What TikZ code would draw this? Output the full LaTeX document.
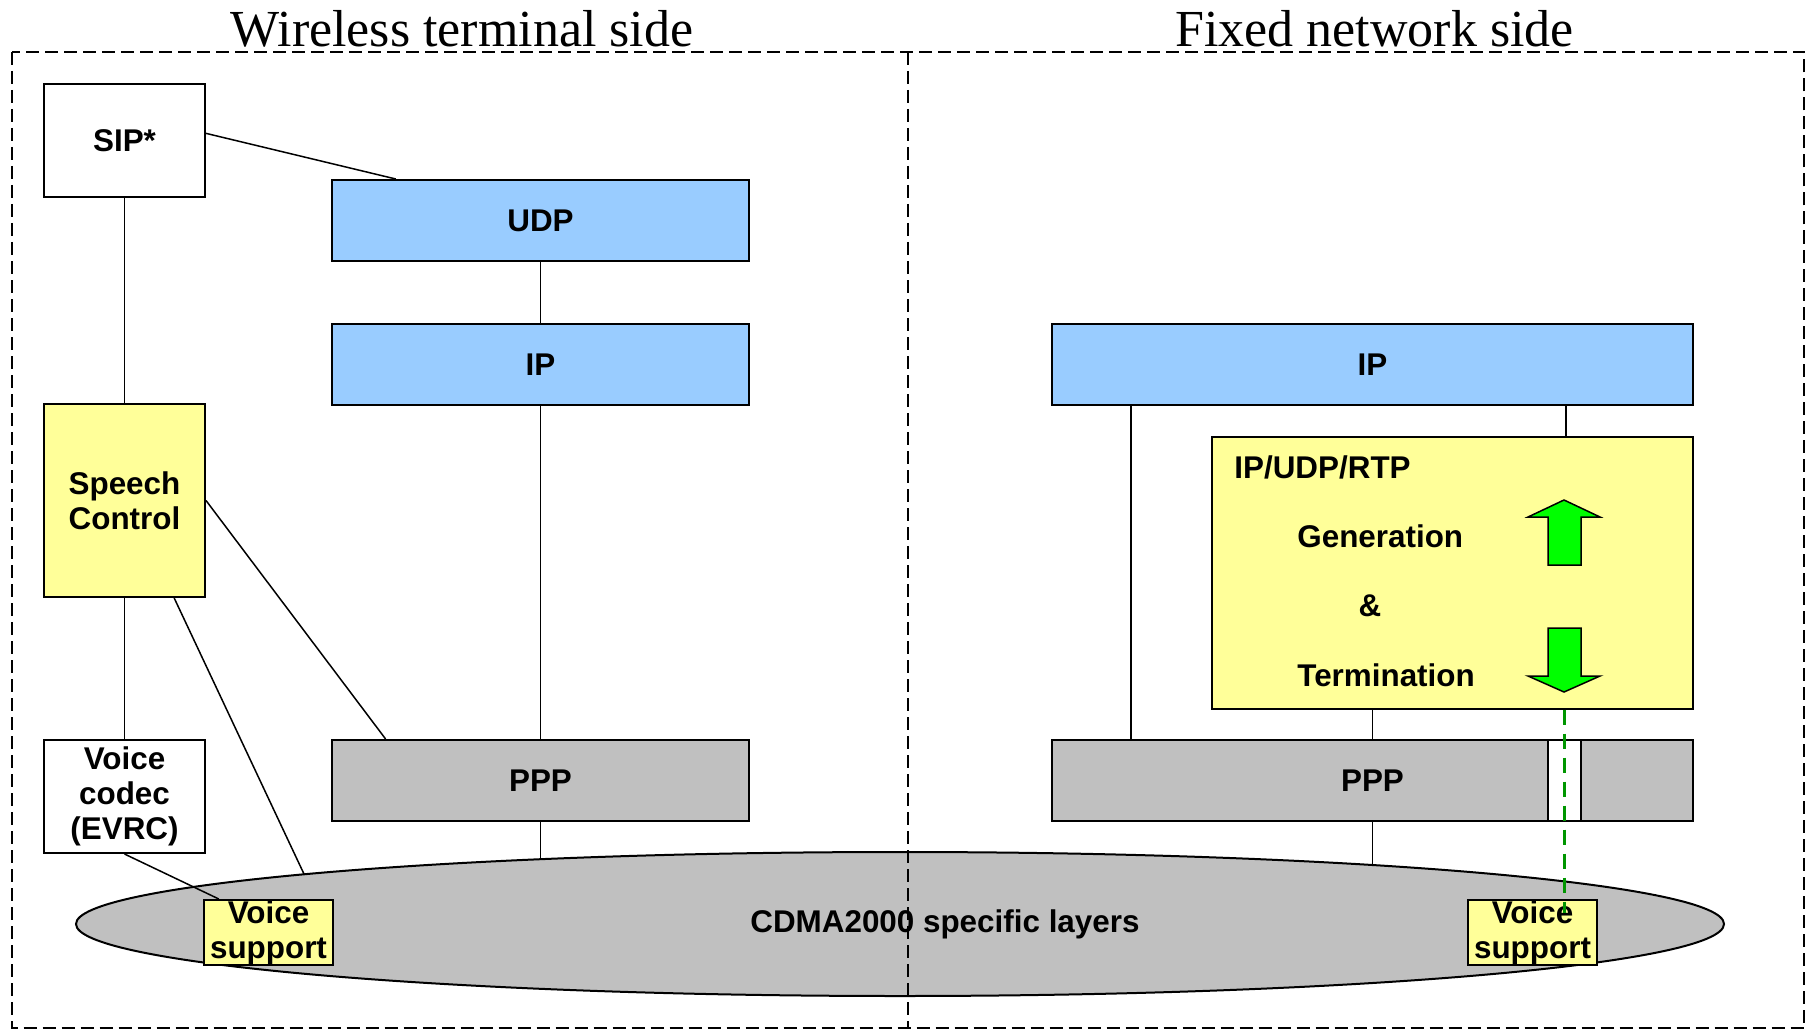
\documentclass[tikz,border=0pt]{standalone}
\usepackage{fontspec}
\setmainfont{Liberation Sans}
\newfontfamily\titlefont{Liberation Serif}
\usetikzlibrary{shapes.geometric,calc}
\definecolor{lblue}{RGB}{153,204,255}
\definecolor{lyellow}{RGB}{255,255,153}
\definecolor{lgrey}{RGB}{192,192,192}
\definecolor{agreen}{RGB}{0,255,0}
\definecolor{dgreen}{RGB}{0,150,0}
\tikzset{
  txt/.style={font=\bfseries\fontsize{15.7}{17.5}\selectfont, align=center},
  layer/.style={draw=black, line width=1pt, inner sep=0pt, txt},
  bluebox/.style={layer, fill=lblue, minimum width=208.5pt, minimum height=40.5pt},
  greybox/.style={layer, fill=lgrey, minimum width=208.5pt, minimum height=40.5pt},
  wbox/.style={layer, fill=white, minimum width=80.5pt, minimum height=56.5pt},
  vsbox/.style={layer, fill=lyellow, minimum width=64.5pt, minimum height=32.5pt},
  conn/.style={draw=black, line width=0.75pt},
  frame/.style={draw=black, line width=1pt, dash pattern=on 6.5pt off 3pt},
  ttl/.style={font=\titlefont\fontsize{26}{30}\selectfont, anchor=base},
  garrow/.style={fill=agreen, draw=black, line width=0.75pt, line join=miter},
}
\begin{document}
\begin{tikzpicture}[x=0.5pt,y=-0.5pt]
\useasboundingbox (0,0) rectangle (1813,1032);
\coordinate (ec) at (900,924);
\coordinate (sce) at (304,874);

% titles
\node[ttl] (t1) at (462,47) {Wireless terminal side};
\node[ttl] (t2) at (1374.5,47) {Fixed network side};

% left stack
\node[wbox] (SIP) at (124.5,140.5) {SIP*};
\node[bluebox] (UDP) at (540.5,220.5) {UDP};
\node[bluebox] (IPL) at (540.5,364.5) {IP};
\node[greybox] (PPPL) at (540.5,780.5) {PPP};
\node[layer, fill=lyellow, minimum width=80.5pt, minimum height=96.5pt] (SC) at (124.5,500.5) {Speech\\Control};
\node[wbox] (VC) at (124.5,796.5) {Voice\\codec\\(EVRC)};

% right stack
\node[layer, fill=lblue, minimum width=320.5pt, minimum height=40.5pt] (IPR) at (1372.5,364.5) {IP};
\node[layer, fill=lgrey, minimum width=320.5pt, minimum height=40.5pt] (PPPR) at (1372.5,780.5) {PPP};
\node[draw=black, line width=0.6pt, fill=white, inner sep=0pt, minimum width=16.5pt, minimum height=40.5pt] (slot) at (1564.5,780.5) {};
\node[layer, fill=lyellow, minimum width=240.5pt, minimum height=136pt] (GT) at (1452.5,572.5) {};

% connectors going into the ellipse (drawn beneath it)
\draw[conn] (PPPL.south) -- (PPPL.south |- ec);
\draw[conn] (PPPR.south) -- (PPPR.south |- ec);
\draw[conn] (SC.-63.3) -- (sce);

% ellipse
\node[ellipse, draw=black, line width=1pt, fill=lgrey, minimum width=824pt, minimum height=72pt, inner sep=0pt] (cdma) at (ec) {};
\node[txt] (cdmatxt) at (945,924) {CDMA2000 specific layers};

% voice support boxes
\node[vsbox] (VS1) at (268.5,932.5) {Voice\\support};
\node[vsbox] (VS2) at (1532.5,932.5) {Voice\\support};

% other connectors
\draw[conn] (SIP.5) -- (UDP.164.4);
\draw[conn] (SIP.south) -- (SC.north);
\draw[conn] (UDP.south) -- (IPL.north);
\draw[conn] (IPL.south) -- (PPPL.north);
\draw[conn] (SC.east) -- (PPPL.165.8);
\draw[conn] (SC.south) -- (VC.north);
\draw[conn] (VC.south) -- (VS1.146.2);
\draw[conn] ([xshift=40pt]IPR.south west) -- ([xshift=40pt]PPPR.north west);
\draw[conn] ([xshift=-64pt]IPR.south east) -- ([xshift=-64pt]GT.north east);
\draw[conn] (PPPR.north |- GT.south) -- (PPPR.north);

% texts inside generation/termination box
\node[txt, inner sep=0pt, anchor=base west] (g1) at (1234,478) {IP/UDP/RTP};
\node[txt, inner sep=0pt, anchor=base west] (g2) at (1297,547) {Generation};
\node[txt, inner sep=0pt, anchor=base] (g3) at (1370,616) {\&};
\node[txt, inner sep=0pt, anchor=base west] (g4) at (1297,686) {Termination};

% green arrows
\draw[garrow] (1564,500) -- (1600,517) -- (1581,517) -- (1581,565) -- (1548,565) -- (1548,517) -- (1528,517) -- cycle;
\draw[garrow] (1564,692) -- (1600,676) -- (1581,676) -- (1581,628) -- (1548,628) -- (1548,676) -- (1528,676) -- cycle;

% dashed frame and divider
\draw[frame] (11.5,52) rectangle (1804,1028);
\draw[frame] (908,52) -- (908,1028);

% green dashed link
\coordinate (gend) at (1564.5,913);
\draw[draw=dgreen, line width=1.6pt, dash pattern=on 7.5pt off 4.5pt] (slot.north |- GT.south) -- (gend);
\end{tikzpicture}
\end{document}
